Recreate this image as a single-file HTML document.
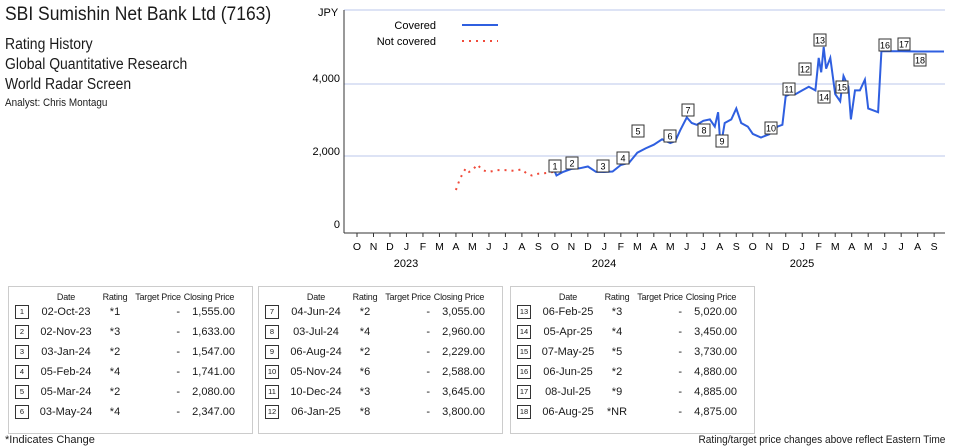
<!DOCTYPE html>
<html><head><meta charset="utf-8"><style>
body{margin:0;width:955px;height:448px;background:#fff;font-family:"Liberation Sans",sans-serif;color:#1a1a1a;position:relative;overflow:hidden}
.t{position:absolute;white-space:nowrap}
.box{position:absolute;top:286px;width:245px;height:148px;border:1px solid #ccc;box-sizing:border-box}
.box table{position:absolute;left:6px;top:4px;border-collapse:collapse;font-size:11px;table-layout:fixed}
.box th{font-weight:normal;font-size:9px;padding:0;height:11px;white-space:nowrap;letter-spacing:-0.2px}
.box td{padding:0;height:20px;white-space:nowrap}
.n{display:inline-block;width:12px;height:12px;border:1px solid #333;font-size:7.5px;text-align:center;line-height:12px}
</style></head><body>
<div class="t" style="left:5px;top:4px;font-size:19px;transform:scaleX(.92);transform-origin:left">SBI Sumishin Net Bank Ltd (7163)</div>
<div class="t" style="left:5px;top:35px;font-size:15.5px;line-height:20px;transform:scaleX(.9);transform-origin:left">Rating History<br>Global Quantitative Research<br>World Radar Screen</div>
<div class="t" style="left:5px;top:97px;font-size:11px;transform:scaleX(.9);transform-origin:left">Analyst: Chris Montagu</div>
<svg id="c" width="955" height="280" style="position:absolute;left:0;top:0" font-family="Liberation Sans" font-size="11"></svg>
<div class="box" style="left:8px"><table>
<colgroup><col style="width:20px"><col style="width:62px"><col style="width:36px"><col style="width:50px"><col style="width:52px"></colgroup>
<tr><th></th><th>Date</th><th>Rating</th><th>Target Price</th><th>Closing Price</th></tr>
<tr><td><span class="n">1</span></td><td align=center>02-Oct-23</td><td align=center>*1</td><td align=right style="padding-right:3px">-</td><td align=right>1,555.00</td></tr>
<tr><td><span class="n">2</span></td><td align=center>02-Nov-23</td><td align=center>*3</td><td align=right style="padding-right:3px">-</td><td align=right>1,633.00</td></tr>
<tr><td><span class="n">3</span></td><td align=center>03-Jan-24</td><td align=center>*2</td><td align=right style="padding-right:3px">-</td><td align=right>1,547.00</td></tr>
<tr><td><span class="n">4</span></td><td align=center>05-Feb-24</td><td align=center>*4</td><td align=right style="padding-right:3px">-</td><td align=right>1,741.00</td></tr>
<tr><td><span class="n">5</span></td><td align=center>05-Mar-24</td><td align=center>*2</td><td align=right style="padding-right:3px">-</td><td align=right>2,080.00</td></tr>
<tr><td><span class="n">6</span></td><td align=center>03-May-24</td><td align=center>*4</td><td align=right style="padding-right:3px">-</td><td align=right>2,347.00</td></tr>
</table></div>
<div class="box" style="left:258px"><table>
<colgroup><col style="width:20px"><col style="width:62px"><col style="width:36px"><col style="width:50px"><col style="width:52px"></colgroup>
<tr><th></th><th>Date</th><th>Rating</th><th>Target Price</th><th>Closing Price</th></tr>
<tr><td><span class="n">7</span></td><td align=center>04-Jun-24</td><td align=center>*2</td><td align=right style="padding-right:3px">-</td><td align=right>3,055.00</td></tr>
<tr><td><span class="n">8</span></td><td align=center>03-Jul-24</td><td align=center>*4</td><td align=right style="padding-right:3px">-</td><td align=right>2,960.00</td></tr>
<tr><td><span class="n">9</span></td><td align=center>06-Aug-24</td><td align=center>*2</td><td align=right style="padding-right:3px">-</td><td align=right>2,229.00</td></tr>
<tr><td><span class="n">10</span></td><td align=center>05-Nov-24</td><td align=center>*6</td><td align=right style="padding-right:3px">-</td><td align=right>2,588.00</td></tr>
<tr><td><span class="n">11</span></td><td align=center>10-Dec-24</td><td align=center>*3</td><td align=right style="padding-right:3px">-</td><td align=right>3,645.00</td></tr>
<tr><td><span class="n">12</span></td><td align=center>06-Jan-25</td><td align=center>*8</td><td align=right style="padding-right:3px">-</td><td align=right>3,800.00</td></tr>
</table></div>
<div class="box" style="left:510px"><table>
<colgroup><col style="width:20px"><col style="width:62px"><col style="width:36px"><col style="width:50px"><col style="width:52px"></colgroup>
<tr><th></th><th>Date</th><th>Rating</th><th>Target Price</th><th>Closing Price</th></tr>
<tr><td><span class="n">13</span></td><td align=center>06-Feb-25</td><td align=center>*3</td><td align=right style="padding-right:3px">-</td><td align=right>5,020.00</td></tr>
<tr><td><span class="n">14</span></td><td align=center>05-Apr-25</td><td align=center>*4</td><td align=right style="padding-right:3px">-</td><td align=right>3,450.00</td></tr>
<tr><td><span class="n">15</span></td><td align=center>07-May-25</td><td align=center>*5</td><td align=right style="padding-right:3px">-</td><td align=right>3,730.00</td></tr>
<tr><td><span class="n">16</span></td><td align=center>06-Jun-25</td><td align=center>*2</td><td align=right style="padding-right:3px">-</td><td align=right>4,880.00</td></tr>
<tr><td><span class="n">17</span></td><td align=center>08-Jul-25</td><td align=center>*9</td><td align=right style="padding-right:3px">-</td><td align=right>4,885.00</td></tr>
<tr><td><span class="n">18</span></td><td align=center>06-Aug-25</td><td align=center>*NR</td><td align=right style="padding-right:3px">-</td><td align=right>4,875.00</td></tr>
</table></div>
<div class="t" style="left:5px;top:434px;font-size:11px">*Indicates Change</div>
<div class="t" style="right:10px;top:434px;font-size:11px;transform:scaleX(.92);transform-origin:right">Rating/target price changes above reflect Eastern Time</div>
<script>
var s=document.getElementById('c'),h='';
function X(m){return 357+16.49*m}function Y(p){return 228-p*0.0362}
[10,84,156].forEach(function(y){h+='<line x1="344" x2="945" y1="'+y+'" y2="'+y+'" stroke="#dde3f5" stroke-width="2"/>'});
h+='<line x1="344" x2="344" y1="10" y2="233" stroke="#333"/><line x1="344" x2="945" y1="233" y2="233" stroke="#333"/>';
h+='<text x="318" y="16" font-size="11">JPY</text><text x="340" y="82" text-anchor="end">4,000</text><text x="340" y="155" text-anchor="end">2,000</text><text x="340" y="228" text-anchor="end">0</text>';
var M='ONDJFMAMJJAS';for(var i=0;i<36;i++){var x=X(i);h+='<line x1="'+x+'" x2="'+x+'" y1="233" y2="237" stroke="#333"/><text x="'+x+'" y="250" text-anchor="middle" font-size="10.5">'+M[i%12]+'</text>';}
h+='<text x="406" y="267" text-anchor="middle" font-size="11">2023</text><text x="604" y="267" text-anchor="middle" font-size="11">2024</text><text x="802" y="267" text-anchor="middle" font-size="11">2025</text>';
h+='<text x="436" y="29" text-anchor="end">Covered</text><text x="436" y="45" text-anchor="end">Not covered</text><line x1="462" x2="498" y1="25" y2="25" stroke="#2f5fe0" stroke-width="2"/><line x1="462" x2="498" y1="41" y2="41" stroke="#f04a3a" stroke-width="2" stroke-dasharray="2,5"/>';
var r=[[6,1050],[6.2,1300],[6.4,1500],[6.6,1650],[6.8,1550],[7,1600],[7.3,1750],[7.6,1600],[8,1550],[8.5,1600],[9,1600],[9.5,1580],[10,1620],[10.3,1500],[10.6,1450],[11,1500],[11.5,1520],[12,1555]];
var b=[[12,1555],[12.1,1450],[12.5,1550],[13,1633],[13.5,1650],[14,1700],[14.5,1550],[15,1547],[15.5,1560],[16,1741],[16.5,1800],[17,2080],[17.5,2200],[18,2300],[18.5,2450],[19,2347],[19.3,2400],[19.6,2700],[20,3055],[20.3,2900],[20.6,2850],[21,2960],[21.4,3000],[21.7,2800],[21.9,3200],[22.05,2229],[22.3,2900],[22.7,3000],[23,3300],[23.3,2900],[23.7,2800],[24,2600],[24.5,2500],[25,2588],[25.5,2800],[25.8,2850],[26,3645],[26.3,3700],[26.6,3700],[27,3800],[27.4,3900],[27.8,3800],[28,4700],[28.15,4300],[28.3,5000],[28.45,4400],[28.7,4700],[29,3700],[29.3,3500],[29.5,4200],[29.8,3900],[29.95,3000],[30.2,3800],[30.5,3800],[30.8,4100],[31,3300],[31.3,3250],[31.6,3200],[31.8,4880],[32,4880],[33,4885],[34,4875],[35.6,4875]];
function P(a){return a.map(function(p){return X(p[0]).toFixed(1)+','+Y(p[1]).toFixed(1)}).join(' ')}
h+='<polyline points="'+P(r)+'" fill="none" stroke="#f04a3a" stroke-width="2" stroke-dasharray="2,5"/>';
h+='<polyline points="'+P(b)+'" fill="none" stroke="#2f5fe0" stroke-width="2"/>';
var k=[[555,166],[572,163],[603,166],[623,158],[638,131],[670,136],[688,110],[704,130],[722,141],[771,128],[789,89],[805,69],[820,40],[824,97],[842,87],[885,45],[904,44],[920,60]];
k.forEach(function(p,i){h+='<rect x="'+(p[0]-6)+'" y="'+(p[1]-6)+'" width="12" height="12" fill="#fff" stroke="#333"/><text x="'+p[0]+'" y="'+(p[1]+3.5)+'" text-anchor="middle" font-size="9">'+(i+1)+'</text>'});
s.innerHTML=h;
</script>
</body></html>
